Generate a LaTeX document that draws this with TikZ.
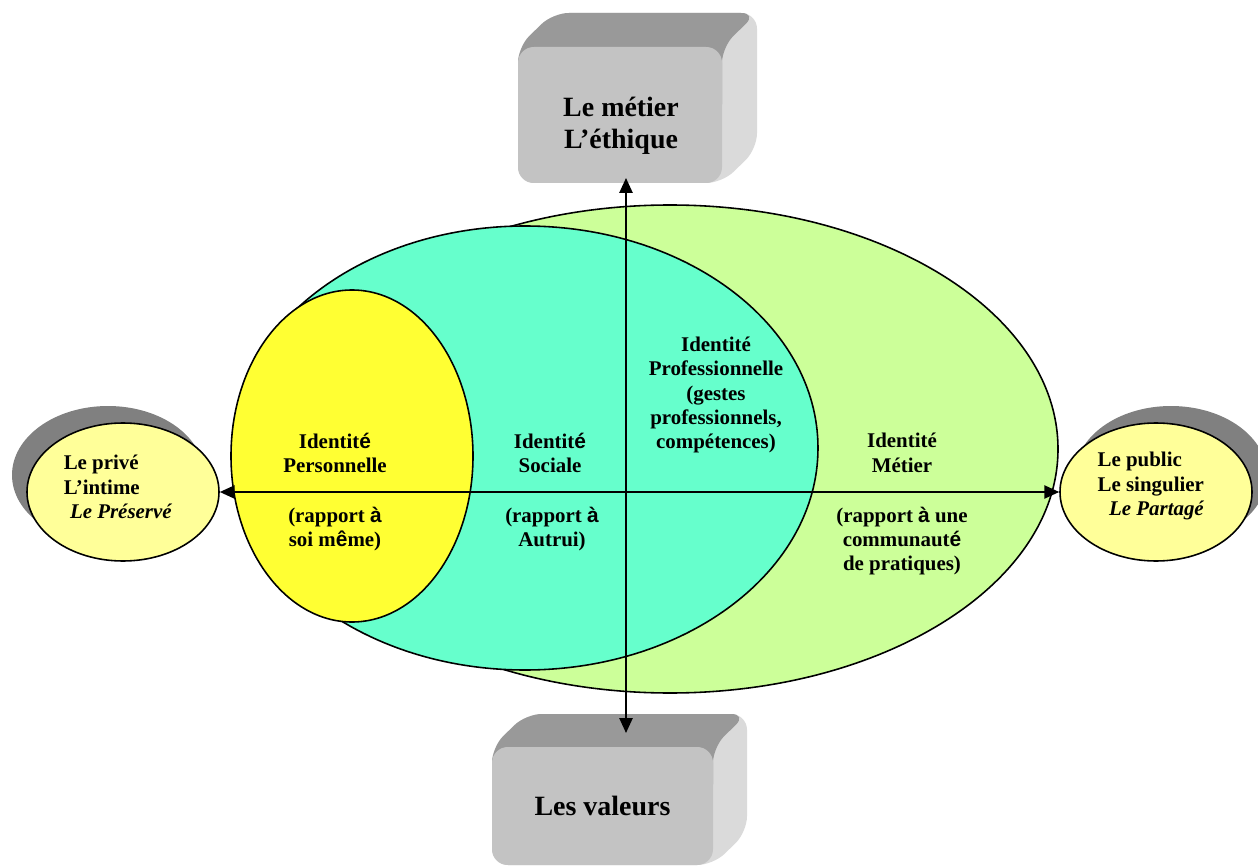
\documentclass[tikz,border=0pt]{standalone}
\usepackage{fontspec}
\setmainfont{Liberation Serif}
\newfontfamily\sns{Liberation Sans}
\usetikzlibrary{shapes.geometric,arrows.meta}
\definecolor{cgreen}{HTML}{CCFF99}
\definecolor{ccyan}{HTML}{66FFCC}
\definecolor{cyel}{HTML}{FFFF33}
\definecolor{clyel}{HTML}{FFFF99}
\definecolor{cshadow}{HTML}{808080}
\definecolor{cfront}{HTML}{C3C3C3}
\definecolor{ctop}{HTML}{999999}
\definecolor{cside}{HTML}{DADADA}
\newcommand\pxu{0.02cm}
\begin{document}
\begin{tikzpicture}[x=0.02cm,y=-0.02cm,
  lbl/.style={font=\bfseries\fontsize{11.9}{13.9}\selectfont, align=center, inner sep=0pt},
  big/.style={font=\bfseries\fontsize{15.9}{18.4}\selectfont, align=center, inner sep=0pt},
  ring/.style={ellipse, draw=black, line width=0.9pt, inner sep=0pt},
  shadowell/.style={ellipse, fill=cshadow, inner sep=0pt},
  axis/.style={line width=1.1pt, {Triangle[length=8.5pt,width=7.5pt]}-{Triangle[length=8.5pt,width=7.5pt]}},
  face/.style={rounded corners=9pt},
  frontface/.style={fill=cfront, rounded corners=9pt, inner sep=0pt},
  ]
\clip (0,0) rectangle (1258,868);
\fill[white] (0,0) rectangle (1258,868);

% top 3D box
\fill[cside, face] (518,183) -- (518,47) -- (553,13) -- (757,13) -- (757,149) -- (722,183) -- cycle;
\fill[ctop, face] (518,120) -- (518,47) -- (553,13) -- (757,13) -- (722,47) -- (722,120) -- cycle;
\node[frontface, minimum width=204*\pxu, minimum height=136*\pxu] (tb) at (620,115) {};
\node[big] (tbt) at (621,126) {Le métier\\L’éthique};

% bottom 3D box
\fill[cside, face] (492,865) -- (492,747) -- (526,714) -- (747,714) -- (747,832) -- (713,865) -- cycle;
\fill[ctop, face] (492,800) -- (492,747) -- (526,714) -- (747,714) -- (713,747) -- (713,800) -- cycle;
\node[frontface, big, minimum width=221*\pxu, minimum height=118*\pxu] (bb) at (602.5,806) {Les valeurs};

% identity ellipses
\node[ring, fill=cgreen, minimum width=776*\pxu, minimum height=488*\pxu] (ge) at (670,449) {};
\node[ring, fill=ccyan, minimum width=586*\pxu, minimum height=444*\pxu] (ce) at (525,448) {};
\node[ring, fill=cyel, minimum width=242*\pxu, minimum height=332*\pxu] (ye) at (352,456) {};

% side ellipses with shadows
\node[shadowell, minimum width=192*\pxu, minimum height=138*\pxu] (lps) at (108,475) {};
\node[ring, fill=clyel, minimum width=192*\pxu, minimum height=138*\pxu] (lp) at (123,492) {};
\node[shadowell, minimum width=192*\pxu, minimum height=138*\pxu] (rps) at (1171,475) {};
\node[ring, fill=clyel, minimum width=192*\pxu, minimum height=138*\pxu] (rp) at (1156,492) {};

% texts
\node[lbl, align=left] (tPriv) at (118,487) {Le privé\\L’intime\\\hspace{0.3em}\textit{Le Préservé}};
\node[lbl, align=left] (tPub) at (1151,486) {Le public\\Le singulier\\\hspace{0.55em}\textit{Le Partagé}};
\node[lbl] (tPers) at (335,453) {Identit{\sns é}\\Personnelle};
\node[lbl] (tPersR) at (335,529) {(rapport {\sns à}\\soi m{\sns ê}me)};
\node[lbl] (tSoc) at (550,453) {Identit{\sns é}\\Sociale};
\node[lbl] (tSocR) at (552,529) {(rapport {\sns à}\\Autrui)};
\node[lbl] (tPro) at (716,395) {Identité\\Professionnelle\\(gestes\\professionnels,\\compétences)};
\node[lbl] (tMet) at (902,453) {Identité\\Métier};
\node[lbl] (tMetR) at (902,541) {(rapport {\sns à} une\\communaut{\sns é}\\de pratiques)};

% axes
\coordinate (vt) at (626,178);
\coordinate (vb) at (626,733);
\draw[axis] (lp.east) -- (rp.west);
\draw[axis] (vt) -- (vb);
\end{tikzpicture}
\end{document}
